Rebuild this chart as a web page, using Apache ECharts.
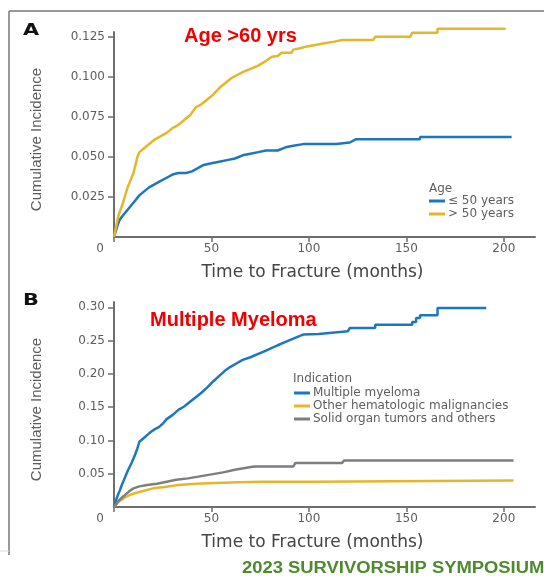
<!DOCTYPE html>
<html>
<head>
<meta charset="utf-8">
<script src="https://cdn.jsdelivr.net/npm/echarts@6/dist/echarts.min.js"></script>
<style>html,body{margin:0;padding:0;background:#fff}#c{width:544px;height:576px}</style>
</head>
<body>
<div id="c"></div>
<script>
// ---- Data (time in months, cumulative incidence); repeated times mark visible step jumps ----
const ageLe50 = [[0,0],[1,0.004],[2,0.008],[3,0.011],[5,0.014],[7,0.017],[9,0.020],[11,0.023],[13,0.026],[15,0.028],[18,0.031],[21,0.033],[24,0.035],[27,0.037],[30,0.039],[33,0.040],[37,0.040],[40,0.041],[43,0.043],[46,0.045],[50,0.046],[54,0.047],[58,0.048],[62,0.049],[66,0.051],[70,0.052],[74,0.053],[78,0.054],[84,0.054],[85,0.055],[88,0.056],[92,0.057],[97,0.058],[114,0.058],[115,0.059],[121,0.059],[122,0.060],[124,0.061],[157,0.061],[157,0.0625],[204,0.0625]];
const ageGt50 = [[0,0],[1,0.006],[2,0.012],[3,0.016],[4,0.019],[5,0.023],[6,0.027],[7,0.031],[8,0.034],[9,0.037],[10,0.040],[11,0.045],[12,0.050],[13,0.053],[15,0.055],[17,0.057],[19,0.059],[21,0.061],[24,0.063],[27,0.065],[30,0.068],[33,0.070],[36,0.073],[39,0.076],[42,0.081],[45,0.083],[48,0.086],[51,0.089],[54,0.093],[57,0.096],[60,0.099],[63,0.101],[66,0.103],[70,0.105],[74,0.107],[78,0.110],[81,0.1125],[84,0.113],[86,0.115],[91,0.115],[92,0.117],[96,0.118],[99,0.119],[104,0.120],[108,0.121],[113,0.122],[117,0.123],[133,0.123],[134,0.125],[152,0.125],[153,0.1275],[166,0.1275],[166,0.130],[201,0.130]];
const myeloma = [[0,0],[1,0.010],[2,0.018],[3,0.025],[4,0.033],[5,0.040],[6,0.047],[7,0.054],[8,0.060],[9,0.066],[10,0.073],[11,0.080],[12,0.088],[13,0.098],[15,0.103],[17,0.108],[19,0.113],[21,0.117],[23,0.120],[25,0.125],[27,0.132],[30,0.138],[33,0.146],[36,0.151],[39,0.158],[42,0.165],[45,0.172],[48,0.180],[51,0.189],[54,0.197],[57,0.205],[60,0.211],[63,0.216],[66,0.221],[70,0.225],[74,0.230],[78,0.235],[81,0.239],[84,0.243],[88,0.248],[92,0.253],[97,0.259],[105,0.260],[106,0.263],[120,0.264],[121,0.269],[134,0.269],[134,0.274],[153,0.274],[153,0.278],[155,0.278],[155,0.284],[157,0.284],[157,0.288],[166,0.288],[166,0.299],[191,0.299]];
const otherHeme = [[0,0],[2,0.007],[4,0.011],[6,0.015],[8,0.018],[11,0.021],[15,0.024],[20,0.028],[26,0.030],[33,0.033],[42,0.035],[52,0.036],[64,0.037],[76,0.038],[102,0.038],[103,0.040],[205,0.040]];
const solidTumor = [[0,0],[2,0.008],[4,0.014],[6,0.019],[8,0.024],[10,0.028],[13,0.031],[17,0.033],[22,0.035],[27,0.038],[32,0.041],[38,0.043],[44,0.046],[50,0.049],[56,0.052],[62,0.056],[68,0.059],[72,0.061],[92,0.061],[93,0.066],[117,0.066],[118,0.070],[205,0.070]];

const xTicks = [0, 50, 100, 150, 200];
const yTicksA = [0.025, 0.05, 0.075, 0.1, 0.125];
const yTicksB = [0.05, 0.10, 0.15, 0.20, 0.25, 0.30];
const namesA = ['\u2264 50 years', '> 50 years'];
const namesB = ['Multiple myeloma', 'Other hematologic malignancies', 'Solid organ tumors and others'];

const BLUE = '#1c77c3', YELLOW = '#e6b62a', GRAY = '#7e7e7e';
const AX = '#6e6e6e', TXT = '#5e5e5e';
const tickFont = 'DejaVu Sans';

function xAxis(gi) {
  return {
    type: 'value', gridIndex: gi, min: 0, max: 216,
    axisLine: { lineStyle: { color: AX, width: 2 } },
    axisTick: { length: 5, lineStyle: { color: AX, width: 1.5 }, customValues: xTicks },
    splitLine: { show: false },
    axisLabel: {
      customValues: xTicks, color: TXT, fontFamily: tickFont, fontSize: 12, margin: 6,
      formatter: v => v === 0 ? '{z|0}' : String(v),
      rich: { z: { padding: [0, 28, 0, 0], color: TXT, fontFamily: tickFont, fontSize: 12 } }
    },
    name: 'Time to Fracture (months)', nameLocation: 'middle', nameGap: 27,
    nameTextStyle: { color: '#444', fontFamily: 'DejaVu Sans', fontSize: 17, padding: [0, 24, 0, 0] }
  };
}
function yAxis(gi, max, ticks, dec) {
  return {
    type: 'value', gridIndex: gi, min: 0, max: max,
    axisLine: { show: true, lineStyle: { color: AX, width: 2 } },
    axisTick: { show: true, length: 6, lineStyle: { color: AX, width: 1.5 }, customValues: ticks },
    splitLine: { show: false },
    axisLabel: { customValues: ticks, color: TXT, fontFamily: tickFont, fontSize: 12, margin: 9,
      formatter: v => v.toFixed(dec) },
    name: 'Cumulative Incidence', nameLocation: 'middle', nameGap: 70, nameRotate: 90,
    nameTextStyle: { color: TXT, fontFamily: 'Liberation Sans', fontSize: 15, padding: [0, 10, 0, 0] }
  };
}
function line(name, data, color, xi) {
  return { name, type: 'line', xAxisIndex: xi, yAxisIndex: xi, data,
    showSymbol: false, symbol: 'none', clip: false, color,
    lineStyle: { color, width: 2.5 } };
}

const chart = echarts.init(document.getElementById('c'), null, { renderer: 'canvas' });
chart.setOption({
  animation: false,
  backgroundColor: '#fff',
  grid: [
    { left: 114, right: 9, top: 32, bottom: 339 },
    { left: 114, right: 9, top: 302, bottom: 69 }
  ],
  xAxis: [xAxis(0), xAxis(1)],
  yAxis: [yAxis(0, 0.128, yTicksA, 3), yAxis(1, 0.308, yTicksB, 2)],
  title: [
    { text: 'Age >60 yrs', left: 184, top: 26, padding: 0, textStyle: { fontFamily: 'Liberation Sans', fontWeight: 'bold', fontSize: 20, color: '#f00000' } },
    { text: 'Multiple Myeloma', left: 150, top: 310, padding: 0, textStyle: { fontFamily: 'Liberation Sans', fontWeight: 'bold', fontSize: 20, color: '#f00000' } },
    { text: 'Age', left: 429, top: 183, padding: 0, textStyle: { fontFamily: tickFont, fontWeight: 'normal', fontSize: 12, color: TXT } },
    { text: 'Indication', left: 293, top: 373, padding: 0, textStyle: { fontFamily: tickFont, fontWeight: 'normal', fontSize: 12, color: TXT } }
  ],
  legend: [
    { data: namesA, orient: 'vertical', left: 429, top: 195, padding: 0, itemGap: 1, itemWidth: 16, itemHeight: 3,
      icon: 'rect', textStyle: { fontFamily: tickFont, fontSize: 12, color: TXT, padding: [0, 0, 0, -2] } },
    { data: namesB, orient: 'vertical', left: 294, top: 387, padding: 0, itemGap: 1, itemWidth: 16, itemHeight: 3,
      icon: 'rect', textStyle: { fontFamily: tickFont, fontSize: 12, color: TXT, padding: [0, 0, 0, -2] } }
  ],
  graphic: [
    { type: 'line', shape: { x1: 9, y1: 11, x2: 544, y2: 11 }, style: { stroke: '#777', lineWidth: 1.5 } },
    { type: 'line', shape: { x1: 9, y1: 11, x2: 9, y2: 555 }, style: { stroke: '#777', lineWidth: 1.5 } },
    { type: 'line', shape: { x1: 0, y1: 551, x2: 9, y2: 551 }, style: { stroke: '#ddd', lineWidth: 1 } },
    { type: 'text', x: 23, y: 31, scaleX: 1.3, originX: 0,
      style: { text: 'A', font: '900 16px "DejaVu Sans"', fill: '#111', textVerticalAlign: 'middle' } },
    { type: 'text', x: 23, y: 301, scaleX: 1.3, originX: 0,
      style: { text: 'B', font: '900 16px "DejaVu Sans"', fill: '#111', textVerticalAlign: 'middle' } },
    { type: 'text', x: 242, y: 568.5, scaleX: 1.15, originX: 0,
      style: { text: '2023 SURVIVORSHIP SYMPOSIUM', font: 'bold 16px "Liberation Sans"', fill: '#4c8a2c', textVerticalAlign: 'middle' } }
  ],
  series: [
    line(namesA[0], ageLe50, BLUE, 0),
    line(namesA[1], ageGt50, YELLOW, 0),
    line(namesB[0], myeloma, BLUE, 1),
    line(namesB[1], otherHeme, YELLOW, 1),
    line(namesB[2], solidTumor, GRAY, 1)
  ]
});
</script>
</body>
</html>
